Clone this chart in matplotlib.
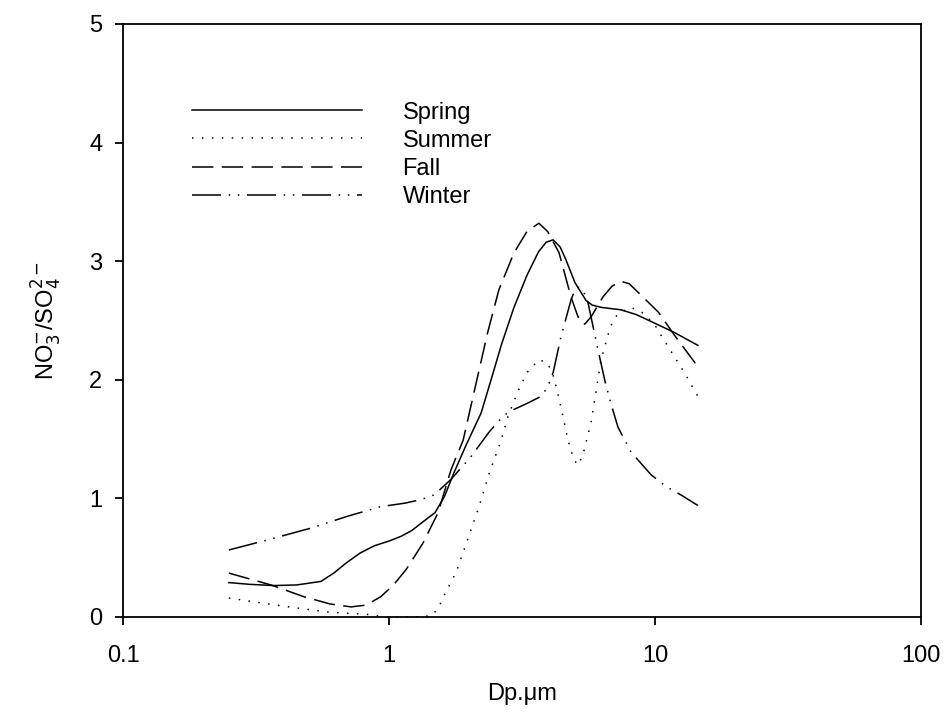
import matplotlib
matplotlib.use("Agg")
import matplotlib.pyplot as plt

plt.rcParams['font.family'] = ['Liberation Sans', 'DejaVu Sans']

# particle diameter (um) and NO3-/SO4 2- ratio
spring_x = [0.25, 0.30, 0.37, 0.45, 0.555, 0.62, 0.69, 0.78, 0.88, 1.0, 1.11, 1.22, 1.32, 1.49, 1.62, 1.75, 1.95,
            2.22, 2.42, 2.65, 2.95, 3.3, 3.65, 3.9, 4.14, 4.4, 4.63, 5.0, 5.5, 5.8, 6.3, 7.45, 8.5, 9.7, 11.8, 14.5]
spring_y = [0.29, 0.275, 0.265, 0.27, 0.30, 0.37, 0.455, 0.54, 0.60, 0.64, 0.68, 0.73, 0.79, 0.88, 1.02, 1.21, 1.45,
            1.72, 2.0, 2.3, 2.61, 2.88, 3.08, 3.16, 3.18, 3.12, 3.01, 2.82, 2.67, 2.63, 2.61, 2.59, 2.55, 2.49, 2.40, 2.29]

summer_x = [0.25, 0.35, 0.47, 0.6, 0.72, 0.85, 0.96, 1.1, 1.25, 1.44, 1.53, 1.61, 1.79, 1.98, 2.18, 2.38, 2.64, 2.80,
            3.05, 3.3, 3.66, 3.95, 4.17, 4.43, 4.71, 4.95, 5.13, 5.35, 5.75, 6.27, 6.8, 7.26, 8.13, 9.09, 10.0,
            11.2, 12.9, 14.5]
summer_y = [0.16, 0.11, 0.07, 0.04, 0.03, 0.02, 0.0, 0.0, 0.0, 0.01, 0.07, 0.18, 0.38, 0.66, 0.93, 1.21, 1.49, 1.69,
            1.90, 2.06, 2.17, 2.14, 2.02, 1.77, 1.49, 1.33, 1.28, 1.36, 1.64, 2.17, 2.45, 2.56, 2.61, 2.56, 2.46,
            2.28, 2.06, 1.86]

fall_x = [0.25, 0.36, 0.48, 0.6, 0.72, 0.82, 0.93, 1.04, 1.16, 1.34, 1.53, 1.71, 1.90, 2.12, 2.35, 2.59, 2.95, 3.3,
          3.66, 3.95, 4.36, 4.83, 5.1, 5.27, 5.45, 5.75, 6.38, 6.9, 7.45, 8.0, 8.71, 10.3, 11.8, 14.5]
fall_y = [0.37, 0.27, 0.17, 0.11, 0.085, 0.10, 0.17, 0.27, 0.40, 0.62, 0.88, 1.24, 1.49, 1.96, 2.4, 2.76, 3.07, 3.25,
          3.32, 3.25, 3.07, 2.70, 2.55, 2.48, 2.47, 2.53, 2.70, 2.79, 2.83, 2.81, 2.73, 2.57, 2.38, 2.11]

winter_x = [0.25, 0.35, 0.51, 0.7, 0.93, 1.15, 1.32, 1.48, 1.71, 2.03, 2.38, 2.7, 2.95, 3.3, 3.73, 3.95, 4.14, 4.43,
            4.83, 5.0, 5.18, 5.4, 5.60, 6.11, 6.5, 6.83, 7.26, 8.13, 9.66, 11.0, 12.5, 14.5]
winter_y = [0.565, 0.65, 0.75, 0.85, 0.93, 0.96, 0.99, 1.03, 1.16, 1.35, 1.56, 1.7, 1.75, 1.8, 1.86, 1.94, 2.06, 2.36,
            2.67, 2.76, 2.78, 2.74, 2.65, 2.25, 1.98, 1.80, 1.60, 1.39, 1.20, 1.10, 1.03, 0.94]

fig = plt.figure(figsize=(9.44, 7.16), dpi=100)
ax = fig.add_axes([0.1303, 0.1383, 0.8453, 0.8282])

ax.plot(spring_x, spring_y, color='black', lw=1.1, linestyle='-', label='Spring')
ax.plot(summer_x, summer_y, color='black', lw=1.1, linestyle=(0, (1, 5.5)), label='Summer')
ax.plot(fall_x, fall_y, color='black', lw=1.1, linestyle=(0, (14, 5.5)), label='Fall')
ax.plot(winter_x, winter_y, color='black', lw=1.1, linestyle=(0, (19, 5, 1, 5, 1, 5)), label='Winter')

ax.set_xscale('log')
ax.set_xlim(0.1, 100)
ax.set_ylim(0, 5)
ax.set_xticks([0.1, 1, 10, 100])
ax.set_xticklabels(['0.1', '1', '10', '100'])
ax.xaxis.set_minor_locator(matplotlib.ticker.NullLocator())
ax.set_yticks([0, 1, 2, 3, 4, 5])

for s in ax.spines.values():
    s.set_linewidth(1.3)
ax.tick_params(axis='both', direction='out', length=6, width=1.3, labelsize=17)
ax.tick_params(axis='x', pad=14)
ax.tick_params(axis='y', pad=9)

ax.set_xlabel('Dp.\u03bcm', fontsize=17, labelpad=12)
ax.set_ylabel(r'NO$_3^{-}$/SO$_4^{2-}$', fontsize=17, labelpad=18)

ax.legend(loc='upper left', bbox_to_anchor=(0.075, 0.885), frameon=False, fontsize=17,
          handlelength=7.2, handletextpad=1.7, labelspacing=0.26, borderaxespad=0)

fig.savefig('out.png', dpi=100)
